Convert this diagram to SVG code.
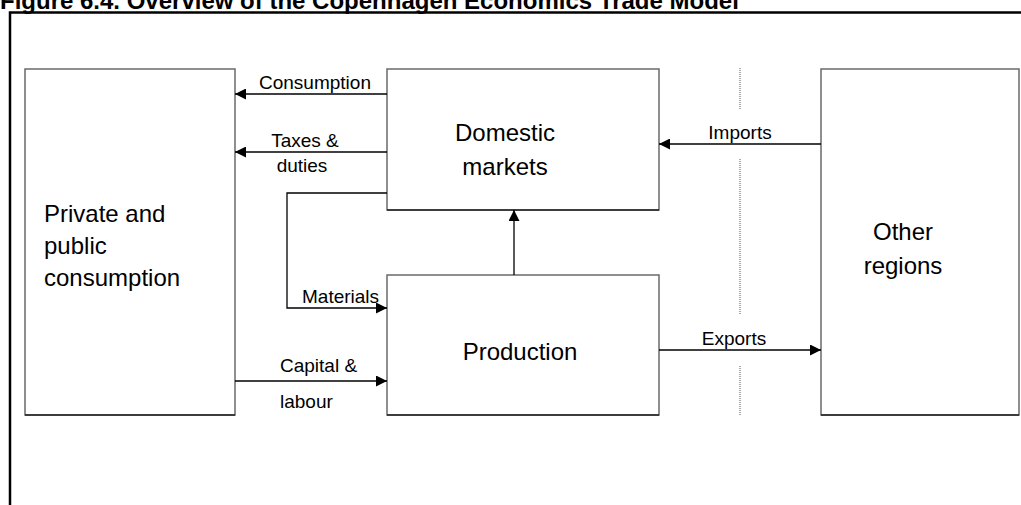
<svg xmlns="http://www.w3.org/2000/svg" width="1021" height="505" viewBox="0 0 1021 505">
<style>
.box{fill:#fff;stroke:#6a6a6a;stroke-width:1.5}
.bot{stroke:#222;stroke-width:1.5}
.t{font-family:"Liberation Sans",Arial,sans-serif;font-size:24px;fill:#000}
.l{font-family:"Liberation Sans",Arial,sans-serif;font-size:19px;fill:#000}
.c{fill:none;stroke:#000;stroke-width:1.3}
.dot{stroke:#aaa;stroke-width:2;stroke-dasharray:1 1}
</style>
<defs>
<marker id="ah" viewBox="0 0 10 10" refX="10" refY="5" markerWidth="11" markerHeight="11" markerUnits="userSpaceOnUse" orient="auto">
<path d="M0,0 L10,5 L0,10 z" fill="#000"/>
</marker>
</defs>
<rect width="1021" height="505" fill="#fff"/>
<text x="0" y="9" font-family="Liberation Sans,Arial,sans-serif" font-size="24" font-weight="bold">Figure 6.4. Overview of the Copenhagen Economics Trade Model</text>
<path d="M10,505 V12.5 H1021" fill="none" stroke="#000" stroke-width="2.5"/>
<g id="private">
<rect class="box" x="25" y="69" width="210" height="346"/>
<line class="bot" x1="25" y1="415" x2="235" y2="415"/>
<text class="t" x="44" y="222">Private and</text>
<text class="t" x="44" y="254">public</text>
<text class="t" x="44" y="286">consumption</text>
</g>
<g id="domestic">
<rect class="box" x="387" y="69" width="272" height="141"/>
<line class="bot" x1="387" y1="210" x2="659" y2="210"/>
<text class="t" x="505" y="141" text-anchor="middle">Domestic</text>
<text class="t" x="505" y="175" text-anchor="middle">markets</text>
</g>
<g id="production">
<rect class="box" x="387" y="275" width="272" height="140"/>
<line class="bot" x1="387" y1="415" x2="659" y2="415"/>
<text class="t" x="520" y="360" text-anchor="middle">Production</text>
</g>
<g id="other">
<rect class="box" x="821" y="69" width="198" height="346"/>
<line class="bot" x1="821" y1="415" x2="1019" y2="415"/>
<text class="t" x="903" y="240" text-anchor="middle">Other</text>
<text class="t" x="903" y="274" text-anchor="middle">regions</text>
</g>
<g id="connectors">
<line class="dot" x1="740" y1="68" x2="740" y2="109"/>
<line class="dot" x1="740" y1="159" x2="740" y2="315"/>
<line class="dot" x1="740" y1="366" x2="740" y2="415"/>
<line class="c" x1="387" y1="94" x2="235" y2="94" marker-end="url(#ah)"/>
<line class="c" x1="387" y1="152" x2="235" y2="152" marker-end="url(#ah)"/>
<polyline class="c" points="387,193 287,193 287,308 387,308" marker-end="url(#ah)"/>
<line class="c" x1="514" y1="275" x2="514" y2="210" marker-end="url(#ah)"/>
<line class="c" x1="821" y1="144" x2="659" y2="144" marker-end="url(#ah)"/>
<line class="c" x1="659" y1="350" x2="821" y2="350" marker-end="url(#ah)"/>
<line class="c" x1="235" y1="381" x2="387" y2="381" marker-end="url(#ah)"/>
<text class="l" x="315" y="89" text-anchor="middle">Consumption</text>
<text class="l" x="305" y="147" text-anchor="middle">Taxes &amp;</text>
<text class="l" x="302" y="172" text-anchor="middle">duties</text>
<text class="l" x="302" y="303">Materials</text>
<text class="l" x="740" y="139" text-anchor="middle">Imports</text>
<text class="l" x="734" y="345" text-anchor="middle">Exports</text>
<text class="l" x="280" y="372">Capital &amp;</text>
<text class="l" x="280" y="408">labour</text>
</g>
</svg>
